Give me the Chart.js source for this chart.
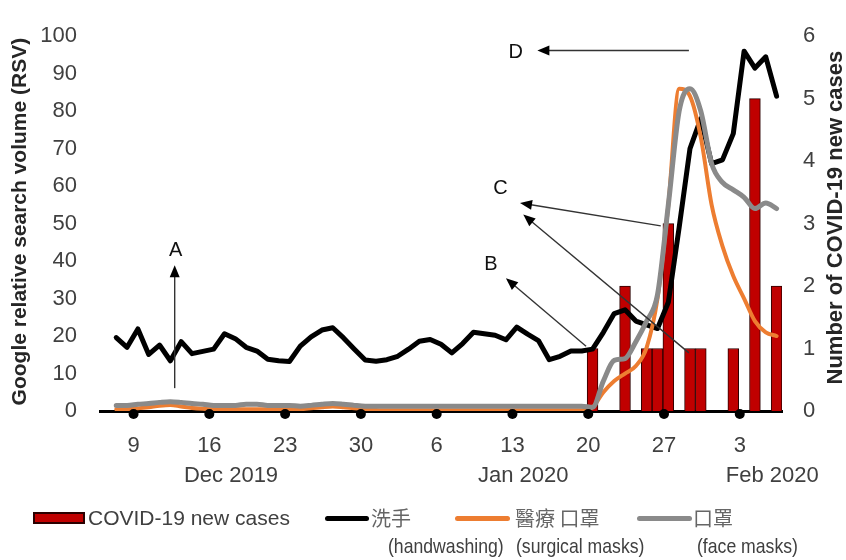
<!DOCTYPE html>
<html>
<head>
<meta charset="utf-8">
<script src="https://cdn.jsdelivr.net/npm/chart.js@4.4.1/dist/chart.umd.min.js"></script>
<style>
  body { margin: 0; background: #fff; }
  #wrap { position: relative; width: 846px; height: 560px; }
  .lg { position: absolute; white-space: nowrap; color: #404040; font-family: 'Liberation Sans', Arial, sans-serif; }
  .cn { font-family: 'Noto Sans CJK TC', sans-serif; color: #666; font-size: 20px; line-height: 22px; }
  .en { font-size: 21px; line-height: 22px; transform: scaleX(0.84); transform-origin: left center; }
  .sw { position: absolute; height: 5px; border-radius: 3px; }
</style>
</head>
<body>
<div id="wrap">
  <canvas id="chart" width="846" height="560"></canvas>

  <div class="lg" style="left:33px;top:512px;width:52px;height:12px;background:#c00000;border:2px solid #2b0000;box-sizing:border-box;"></div>
  <div class="lg" style="left:88px;top:507px;font-size:21px;line-height:22px;">COVID-19 new cases</div>

  <div class="sw" style="left:325px;top:516px;width:44px;background:#000;"></div>
  <div class="lg cn" style="left:371px;top:507px;">洗手</div>
  <div class="lg en" style="left:388px;top:535px;">(handwashing)</div>

  <div class="sw" style="left:455px;top:516px;width:55px;background:#ed7d31;"></div>
  <div class="lg cn" style="left:515px;top:507px;">醫療 口罩</div>
  <div class="lg en" style="left:516px;top:535px;">(surgical masks)</div>

  <div class="sw" style="left:637px;top:516px;width:55px;background:#8a8a8a;"></div>
  <div class="lg cn" style="left:693px;top:507px;">口罩</div>
  <div class="lg en" style="left:697px;top:535px;">(face masks)</div>
</div>

<script>
// daily categories, 6 Dec 2019 - 6 Feb 2020
const days = [
  '2019-12-06','2019-12-07','2019-12-08','2019-12-09','2019-12-10','2019-12-11','2019-12-12','2019-12-13',
  '2019-12-14','2019-12-15','2019-12-16','2019-12-17','2019-12-18','2019-12-19','2019-12-20','2019-12-21',
  '2019-12-22','2019-12-23','2019-12-24','2019-12-25','2019-12-26','2019-12-27','2019-12-28','2019-12-29',
  '2019-12-30','2019-12-31',
  '2020-01-01','2020-01-02','2020-01-03','2020-01-04','2020-01-05','2020-01-06','2020-01-07','2020-01-08',
  '2020-01-09','2020-01-10','2020-01-11','2020-01-12','2020-01-13','2020-01-14','2020-01-15','2020-01-16',
  '2020-01-17','2020-01-18','2020-01-19','2020-01-20','2020-01-21','2020-01-22','2020-01-23','2020-01-24',
  '2020-01-25','2020-01-26','2020-01-27','2020-01-28','2020-01-29','2020-01-30','2020-01-31',
  '2020-02-01','2020-02-02','2020-02-03','2020-02-04','2020-02-05','2020-02-06'
];

// Google RSV, one value per day (first day empty)
const handwashing = [null,
  19.6, 17.0, 21.9, 15.1, 17.6, 13.4, 18.5, 15.3, 15.9, 16.5,
  20.6, 19.3, 17.0, 16.0, 13.8, 13.4, 13.2, 17.3, 19.8, 21.6,
  22.2, 19.5, 16.5, 13.6, 13.3, 13.7, 14.6, 16.5, 18.6, 19.1,
  17.8, 15.5, 18.0, 21.0, 20.6, 20.2, 19.0, 22.4, 20.5, 18.8,
  13.7, 14.6, 16.0, 16.0, 16.5, 21.0, 26.0, 27.0, 24.0, 23.0,
  22.0, 29.0, 49.0, 70.0, 78.0, 66.0, 67.0, 74.0, 96.0, 91.5,
  94.5, 84.0];

const surgicalMasks = [null,
  0.5, 0.5, 0.7, 1.0, 1.4, 1.6, 1.2, 0.8, 0.6, 0.5,
  0.5, 0.5, 0.5, 0.5, 0.5, 0.5, 0.5, 0.5, 0.7, 1.0,
  1.2, 1.0, 0.7, 0.5, 0.3, 0.2, 0.2, 0.2, 0.2, 0.2,
  0.2, 0.2, 0.2, 0.2, 0.2, 0.2, 0.2, 0.2, 0.2, 0.2,
  0.2, 0.2, 0.2, 0.2, 1.0, 5.0, 8.0, 10.0, 12.0, 17.0,
  30.0, 55.0, 86.0, 84.0, 73.0, 55.0, 44.0, 36.0, 30.0, 24.0,
  21.0, 20.0];

const faceMasks = [null,
  1.5, 1.5, 1.8, 2.0, 2.3, 2.5, 2.3, 2.0, 1.8, 1.5,
  1.5, 1.5, 1.8, 1.8, 1.5, 1.5, 1.5, 1.3, 1.5, 1.8,
  2.0, 1.8, 1.5, 1.3, 1.3, 1.3, 1.3, 1.3, 1.3, 1.3,
  1.3, 1.3, 1.3, 1.3, 1.3, 1.3, 1.3, 1.3, 1.3, 1.3,
  1.3, 1.3, 1.3, 1.3, 1.0, 8.0, 13.5, 14.0, 18.5, 24.0,
  31.0, 55.0, 80.0, 86.0, 80.0, 66.0, 61.0, 59.0, 57.0, 54.0,
  55.5, 54.0];

// COVID-19 new cases (right axis)
const caseDays = ['2020-01-20','2020-01-23','2020-01-25','2020-01-26','2020-01-27',
                  '2020-01-29','2020-01-30','2020-02-02','2020-02-04','2020-02-06'];
const caseCounts = [1, 2, 1, 1, 3, 1, 1, 1, 5, 2];

// week ticks (Mondays) and month labels
const tickDays = ['2019-12-09','2019-12-16','2019-12-23','2019-12-30','2020-01-06',
                  '2020-01-13','2020-01-20','2020-01-27','2020-02-03'];
const tickText = ['9','16','23','30','6','13','20','27','3'];
const monthDays = ['2019-12-18','2020-01-14','2020-02-06'];
const monthText = ['Dec 2019','Jan 2020','Feb 2020'];

// annotations A-D: [day index, RSV value]
const notes = [
  { text: 'A', at: [6.5, 42.7], arrows: [[[6.4, 6.1], [6.4, 38.9]]] },
  { text: 'B', at: [35.6, 39.2], arrows: [[[44.4, 17.3], [37.0, 35.4]]] },
  { text: 'C', at: [36.5, 59.3], arrows: [[[51.3, 49.4], [38.3, 55.5]], [[53.9, 15.5], [38.6, 52.4]]] },
  { text: 'D', at: [37.9, 95.7], arrows: [[[53.9, 96.2], [39.9, 96.2]]] }
];

const cases = days.map(d => {
  const k = caseDays.indexOf(d);
  return k < 0 ? null : caseCounts[k];
});

const tickShift = 0.4;

const extras = {
  id: 'extras',
  afterDatasetsDraw(chart) {
    const ctx = chart.ctx;
    const xs = chart.scales.x, ys = chart.scales.y;
    const area = chart.chartArea;

    // week dots on the axis
    ctx.save();
    ctx.fillStyle = '#000';
    tickDays.forEach(d => {
      const x = xs.getPixelForValue(days.indexOf(d) - tickShift);
      const y = ys.getPixelForValue(0) + 3;
      ctx.beginPath();
      ctx.arc(x, y, 5, 0, Math.PI * 2);
      ctx.fill();
    });
    ctx.restore();

    // arrows
    const pt = p => [xs.getPixelForValue(p[0]), ys.getPixelForValue(p[1])];
    ctx.save();
    notes.forEach(n => {
      n.arrows.forEach(a => {
        const [x0, y0] = pt(a[0]);
        const [x1, y1] = pt(a[1]);
        const ang = Math.atan2(y1 - y0, x1 - x0);
        ctx.strokeStyle = '#333';
        ctx.lineWidth = 1.4;
        ctx.beginPath();
        ctx.moveTo(x0, y0);
        ctx.lineTo(x1 - Math.cos(ang) * 8, y1 - Math.sin(ang) * 8);
        ctx.stroke();
        ctx.fillStyle = '#000';
        ctx.beginPath();
        ctx.moveTo(x1, y1);
        ctx.lineTo(x1 - Math.cos(ang) * 12 + Math.sin(ang) * 5, y1 - Math.sin(ang) * 12 - Math.cos(ang) * 5);
        ctx.lineTo(x1 - Math.cos(ang) * 12 - Math.sin(ang) * 5, y1 - Math.sin(ang) * 12 + Math.cos(ang) * 5);
        ctx.closePath();
        ctx.fill();
      });
      const [tx, ty] = pt(n.at);
      ctx.fillStyle = '#111';
      ctx.font = '20px "Liberation Sans", Arial, sans-serif';
      ctx.textAlign = 'center';
      ctx.textBaseline = 'middle';
      ctx.fillText(n.text, tx, ty);
    });
    ctx.restore();

    // axis titles (both read bottom-to-top)
    const mid = (area.top + area.bottom) / 2;
    ctx.save();
    ctx.fillStyle = '#262626';
    ctx.font = 'bold 21px "Liberation Sans", Arial, sans-serif';
    ctx.textAlign = 'center';
    ctx.textBaseline = 'middle';
    ctx.translate(20, mid - 2);
    ctx.rotate(-Math.PI / 2);
    ctx.fillText('Google relative search volume (RSV)', 0, 0);
    ctx.restore();

    ctx.save();
    ctx.fillStyle = '#262626';
    ctx.font = 'bold 22px "Liberation Sans", Arial, sans-serif';
    ctx.textAlign = 'center';
    ctx.textBaseline = 'middle';
    ctx.translate(836, mid - 6);
    ctx.rotate(-Math.PI / 2);
    ctx.fillText('Number of COVID-19 new cases', 0, 0);
    ctx.restore();
  }
};

const tickFont = { family: "'Liberation Sans', Arial, sans-serif", size: 22 };

new Chart(document.getElementById('chart'), {
  type: 'bar',
  data: {
    labels: days,
    datasets: [
      {
        type: 'line', label: '洗手', data: handwashing, yAxisID: 'y',
        borderColor: '#000', borderWidth: 5, pointRadius: 0, tension: 0,
        borderJoinStyle: 'round', borderCapStyle: 'round', order: 3
      },
      {
        type: 'line', label: '醫療口罩', data: surgicalMasks, yAxisID: 'y',
        borderColor: '#ed7d31', borderWidth: 4, pointRadius: 0, cubicInterpolationMode: 'monotone',
        borderJoinStyle: 'round', borderCapStyle: 'round', order: 2
      },
      {
        type: 'line', label: '口罩', data: faceMasks, yAxisID: 'y',
        borderColor: '#8a8a8a', borderWidth: 5, pointRadius: 0, cubicInterpolationMode: 'monotone',
        borderJoinStyle: 'round', borderCapStyle: 'round', order: 1
      },
      {
        label: 'COVID-19 new cases', data: cases, yAxisID: 'y1',
        backgroundColor: '#c00000', borderColor: '#2b0000', borderWidth: 1,
        barPercentage: 1, categoryPercentage: 1, order: 10
      }
    ]
  },
  options: {
    responsive: false,
    devicePixelRatio: 1,
    animation: false,
    layout: { padding: { top: 18, left: 0, right: 0, bottom: 0 } },
    plugins: { legend: { display: false }, tooltip: { enabled: false } },
    scales: {
      x: {
        position: 'bottom',
        offset: true,
        grid: { display: false, drawTicks: false },
        border: { display: true, color: '#000', width: 3 },
        ticks: {
          autoSkip: false, maxRotation: 0, minRotation: 0, padding: 22,
          labelOffset: -4.3, color: '#404040', font: tickFont,
          callback: (v, i) => {
            const k = tickDays.indexOf(days[i]);
            return k < 0 ? '' : tickText[k];
          }
        },
        afterFit: s => { s.height = 48; }
      },
      xm: {
        type: 'category',
        position: 'bottom',
        offset: true,
        grid: { display: false, drawTicks: false },
        border: { display: false },
        ticks: {
          autoSkip: false, maxRotation: 0, minRotation: 0, padding: 4,
          labelOffset: -4.3, color: '#404040', font: tickFont,
          callback: (v, i) => {
            const k = monthDays.indexOf(days[i]);
            return k < 0 ? '' : monthText[k];
          }
        },
        afterFit: s => { s.height = 101; }
      },
      y: {
        position: 'left',
        min: 0, max: 100,
        grid: { display: false, drawTicks: false },
        border: { display: false },
        ticks: { stepSize: 10, padding: 23, color: '#404040', font: { family: "'Liberation Sans', Arial, sans-serif", size: 22 } },
        afterFit: s => { s.width = 100; }
      },
      y1: {
        position: 'right',
        min: 0, max: 6,
        grid: { display: false, drawTicks: false },
        border: { display: false },
        ticks: { stepSize: 1, padding: 21, color: '#404040', font: { family: "'Liberation Sans', Arial, sans-serif", size: 22 } },
        afterFit: s => { s.width = 64; }
      }
    }
  },
  plugins: [extras]
});
</script>
</body>
</html>
